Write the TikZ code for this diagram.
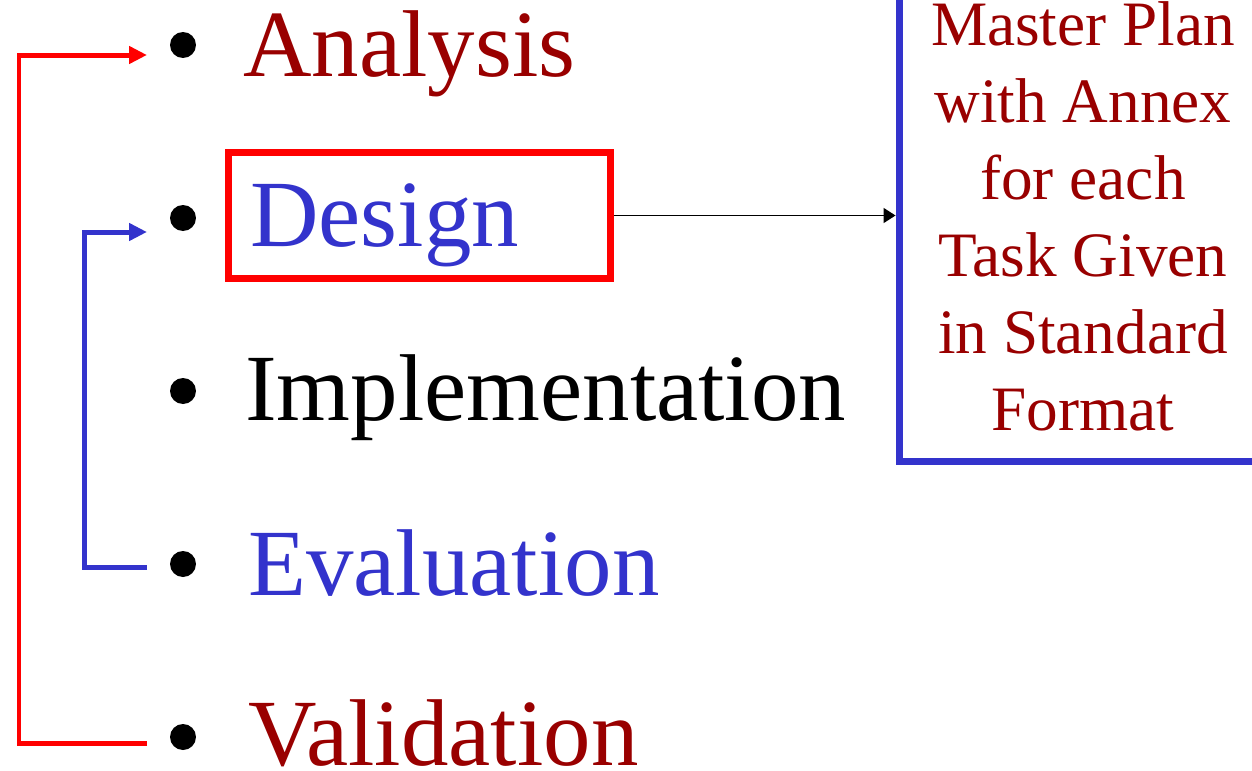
\documentclass[tikz,border=0pt]{standalone}
\usepackage{fontspec}
\setmainfont{Liberation Serif}
\usetikzlibrary{arrows.meta}
\definecolor{darkred}{RGB}{153,0,0}
\definecolor{stepblue}{RGB}{51,51,204}

\begin{document}
\begin{tikzpicture}[x=0.02cm, y=-0.02cm,
  item/.style={anchor=base west, inner sep=0pt, font=\fontsize{54}{60}\selectfont},
  dot/.style={circle, fill=black, inner sep=0pt, minimum size=0.52cm},
  loopline/.style={line width=0.1cm, -{Triangle[length=0.36cm, width=0.34cm]}}]
\useasboundingbox (0,0) rectangle (1252,771);
\clip (0,0) rectangle (1252,771);

% bullets
\node[dot] (dotA) at (183,45) {};
\node[dot] (dotD) at (183,218) {};
\node[dot] (dotI) at (183,391) {};
\node[dot] (dotE) at (183,564) {};
\node[dot] (dotV) at (183,737) {};

% phases
\node[item, text=darkred] (analysis) at (243,76) {Analysis};
\node[item, text=stepblue] (design) at (250,246) {Design};
\node[item, text=black] (impl) at (245,420) {Implementation};
\node[item, text=stepblue] (evaluation) at (248,595) {Evaluation};
\node[item, text=darkred] (validation) at (248,765) {Validation};

\node[draw=red, line width=0.14cm, minimum width=7.66cm, minimum height=2.54cm, inner sep=0pt] (designbox) at (419.5,215.5) {};

% output of the design step
\node[draw=stepblue, line width=0.14cm, inner sep=0pt, minimum width=7.36cm, minimum height=9.82cm, align=center, text=darkred, font=\fontsize{36}{43.8}\selectfont] (plan) at (1083,216.5) {Master Plan\\with Annex\\for each\\Task Given\\in Standard\\Format};

\draw[line width=0.03cm, -{Triangle[length=0.24cm, width=0.3cm]}] (designbox.east) -- (designbox.east -| plan.west);

% feedback loops
\coordinate (redtop) at (147,55);
\coordinate (redbot) at (147,743);
\coordinate (bluetop) at (147,232);
\coordinate (bluebot) at (147,567);
\draw[loopline, red] (redbot) -- ++(-128,0) |- (redtop);
\draw[loopline, stepblue] (bluebot) -- ++(-63,0) |- (bluetop);

\end{tikzpicture}
\end{document}
